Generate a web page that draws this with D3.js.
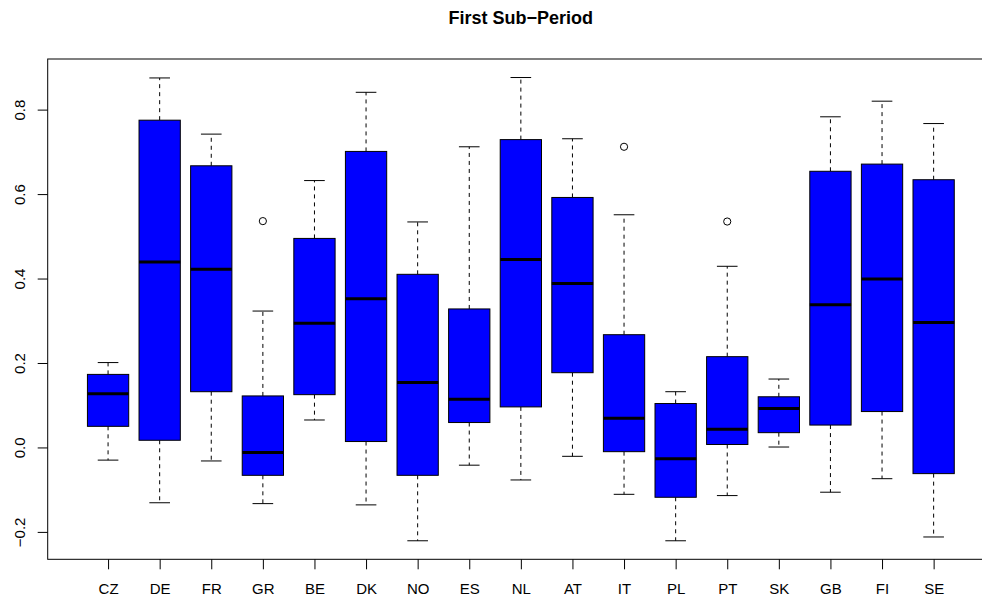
<!DOCTYPE html>
<html>
<head>
<meta charset="utf-8">
<script src="https://cdn.jsdelivr.net/npm/d3@7"></script>
<style>
  html, body { margin: 0; padding: 0; background: #fff; }
  svg { display: block; font-family: "Liberation Sans", Arial, Helvetica, sans-serif; }
</style>
</head>
<body>
<svg id="chart" width="982" height="602"></svg>
<script>
// Five-number summaries per country
const categories   = ["CZ","DE","FR","GR","BE","DK","NO","ES","NL","AT","IT","PL","PT","SK","GB","FI","SE"];
const lowerWhisker = [-0.030,-0.131,-0.032,-0.133, 0.065,-0.136,-0.221,-0.042,-0.077,-0.021,-0.111,-0.221,-0.114, 0.001,-0.106,-0.074,-0.212];
const lowerHinge   = [ 0.050, 0.017, 0.132,-0.066, 0.125, 0.014,-0.066, 0.059, 0.096, 0.177,-0.010,-0.118, 0.007, 0.035, 0.053, 0.085,-0.062];
const medians      = [ 0.127, 0.439, 0.422,-0.012, 0.294, 0.352, 0.154, 0.114, 0.445, 0.388, 0.069,-0.027, 0.043, 0.092, 0.338, 0.399, 0.296];
const upperHinge   = [ 0.173, 0.775, 0.667, 0.122, 0.495, 0.701, 0.410, 0.328, 0.729, 0.592, 0.267, 0.104, 0.215, 0.120, 0.654, 0.671, 0.634];
const upperWhisker = [ 0.201, 0.875, 0.742, 0.323, 0.632, 0.841, 0.534, 0.712, 0.876, 0.731, 0.551, 0.132, 0.429, 0.162, 0.783, 0.820, 0.767];
const outlierCountry = ["GR","IT","PT"];
const outlierValue   = [0.536, 0.712, 0.535];
const yTicks = [-0.2, 0.0, 0.2, 0.4, 0.6, 0.8];
const title = "First Sub\u2212Period";

const svg = d3.select("#chart");
const plot = { left: 47.7, right: 994, top: 59, bottom: 559.3 };

const boxes = categories.map((c, i) => ({
  key: c, lo: lowerWhisker[i], q1: lowerHinge[i], med: medians[i], q3: upperHinge[i], hi: upperWhisker[i]
}));
const outliers = outlierCountry.map((c, i) => ({ key: c, v: outlierValue[i] }));

// y range padded by 4% on each side of the data extent
const allVals = lowerWhisker.concat(upperWhisker, outlierValue);
const ext = d3.extent(allVals);
const pad = (ext[1] - ext[0]) * 0.04;
const y = d3.scaleLinear().domain([ext[0] - pad, ext[1] + pad]).range([plot.bottom, plot.top]);

const x = d3.scalePoint().domain(categories).range([plot.left, plot.right]).padding(1.17);
const boxW = x.step() * 0.8;
const capW = boxW / 2;

// title
svg.append("text")
  .attr("x", (plot.left + plot.right) / 2)
  .attr("y", 24.3)
  .attr("text-anchor", "middle")
  .attr("font-weight", "bold")
  .attr("font-size", 18)
  .attr("fill", "#000")
  .text(title);

// y axis
const yAxis = svg.append("g")
  .attr("transform", `translate(${plot.left},0)`)
  .call(d3.axisLeft(y).tickValues(yTicks).tickFormat(d3.format(".1f")).tickSize(10).tickSizeOuter(0));
yAxis.select(".domain").remove();
yAxis.selectAll(".tick line").attr("stroke", "#000");
yAxis.selectAll(".tick text")
  .attr("x", 0).attr("y", 0).attr("dy", 0)
  .attr("transform", "translate(-23,0) rotate(-90)")
  .attr("text-anchor", "middle")
  .attr("font-size", 15)
  .attr("font-family", "'Liberation Sans', Arial, sans-serif")
  .attr("fill", "#000");

// x axis
const xAxis = svg.append("g")
  .attr("transform", `translate(0,${plot.bottom})`)
  .call(d3.axisBottom(x).tickSize(10).tickSizeOuter(0));
xAxis.select(".domain").remove();
xAxis.selectAll(".tick line").attr("stroke", "#000");
xAxis.selectAll(".tick text")
  .attr("y", 35).attr("dy", 0)
  .attr("font-size", 15)
  .attr("font-family", "'Liberation Sans', Arial, sans-serif")
  .attr("fill", "#000");

// boxplots
const g = svg.append("g");
const bx = g.selectAll("g.box").data(boxes).join("g").attr("class", "box");

// whiskers (dashed)
bx.append("line")
  .attr("x1", d => x(d.key)).attr("x2", d => x(d.key))
  .attr("y1", d => y(d.q3)).attr("y2", d => y(d.hi))
  .attr("stroke", "#000").attr("stroke-width", 1).attr("stroke-dasharray", "4,4");
bx.append("line")
  .attr("x1", d => x(d.key)).attr("x2", d => x(d.key))
  .attr("y1", d => y(d.q1)).attr("y2", d => y(d.lo))
  .attr("stroke", "#000").attr("stroke-width", 1).attr("stroke-dasharray", "4,4");
// whisker caps
bx.append("line")
  .attr("x1", d => x(d.key) - capW / 2).attr("x2", d => x(d.key) + capW / 2)
  .attr("y1", d => y(d.hi)).attr("y2", d => y(d.hi))
  .attr("stroke", "#000").attr("stroke-width", 1);
bx.append("line")
  .attr("x1", d => x(d.key) - capW / 2).attr("x2", d => x(d.key) + capW / 2)
  .attr("y1", d => y(d.lo)).attr("y2", d => y(d.lo))
  .attr("stroke", "#000").attr("stroke-width", 1);
// box
bx.append("rect")
  .attr("x", d => x(d.key) - boxW / 2)
  .attr("width", boxW)
  .attr("y", d => y(d.q3))
  .attr("height", d => y(d.q1) - y(d.q3))
  .attr("fill", "#0000ff")
  .attr("stroke", "#000").attr("stroke-width", 1);
// median
bx.append("line")
  .attr("x1", d => x(d.key) - boxW / 2).attr("x2", d => x(d.key) + boxW / 2)
  .attr("y1", d => y(d.med)).attr("y2", d => y(d.med))
  .attr("stroke", "#000").attr("stroke-width", 3);

// outliers
g.selectAll("circle.out").data(outliers).join("circle")
  .attr("class", "out")
  .attr("cx", d => x(d.key)).attr("cy", d => y(d.v))
  .attr("r", 3.6)
  .attr("fill", "none").attr("stroke", "#000").attr("stroke-width", 1);

// plot frame
svg.append("rect")
  .attr("x", plot.left).attr("y", plot.top)
  .attr("width", plot.right - plot.left).attr("height", plot.bottom - plot.top)
  .attr("fill", "none").attr("stroke", "#000").attr("stroke-width", 1);
</script>
</body>
</html>
